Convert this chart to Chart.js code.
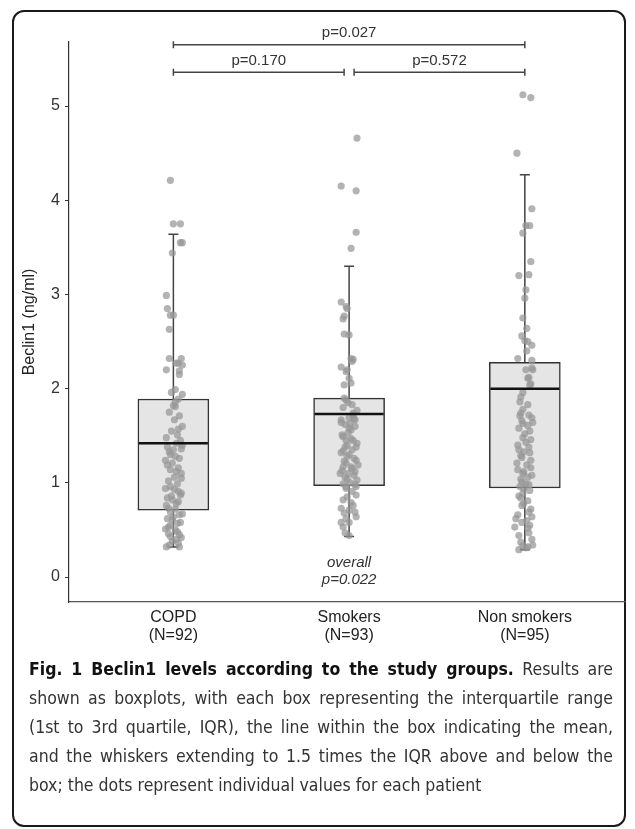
<!DOCTYPE html>
<html>
<head>
<meta charset="utf-8">
<script src="https://cdn.jsdelivr.net/npm/chart.js@4.4.1/dist/chart.umd.min.js"></script>
<style>
  body { margin: 0; background: #fff; width: 635px; height: 829px; overflow: hidden; position: relative; }
  #frame { position: absolute; left: 12px; top: 10px; width: 614px; height: 817px; box-sizing: border-box;
           border: 2px solid #1a1a1a; border-radius: 12px; }
  #wrap { position: absolute; left: 0; top: 0; width: 635px; height: 660px; }
  #caption { position: absolute; left: 29px; top: 655px; width: 584px; color: #333;
             font-family: "Liberation Sans Narrow", "DejaVu Sans Condensed", "Liberation Sans", sans-serif;
             font-size: 17.5px; line-height: 29px; }
  #caption div { text-align: justify; text-align-last: justify; }
  #caption div.last { text-align-last: left; }
  #caption b { color: #111; }
</style>
</head>
<body>
<div id="frame"></div>
<div id="wrap"><canvas id="boxChart"></canvas></div>
<div id="caption">
  <div><b>Fig. 1 Beclin1 levels according to the study groups.</b> Results are</div>
  <div>shown as boxplots, with each box representing the interquartile range</div>
  <div>(1st to 3rd quartile, IQR), the line within the box indicating the mean,</div>
  <div>and the whiskers extending to 1.5 times the IQR above and below the</div>
  <div class="last">box; the dots represent individual values for each patient</div>
</div>
<script>
// nhóm nghiên cứu
const groups = ['COPD', 'Smokers', 'Non smokers'];
const groupN = ['(N=92)', '(N=93)', '(N=95)'];
const yTicks = [0, 1, 2, 3, 4, 5];

// thống kê hộp
const q1 = [0.71, 0.97, 0.945];
const q3 = [1.89, 1.90, 2.28];
const meanLine = [1.42, 1.73, 2.00];
const whiskerLow = [0.32, 0.43, 0.29];
const whiskerHigh = [3.64, 3.30, 4.27];

// giá trị từng bệnh nhân + độ lệch ngang (jitter, đơn vị nhóm)
const copdValues = [4.21, 3.75, 3.75, 3.55, 3.55, 3.44, 2.99, 2.85, 2.78, 2.78, 2.63, 2.32, 2.32, 2.27, 2.27, 2.25, 2.20, 2.19, 2.15, 1.99,
  1.96, 1.94, 1.89, 1.86, 1.82, 1.81, 1.67, 1.60, 1.51, 1.45, 1.38, 1.35, 1.36, 1.30, 1.26, 1.19, 1.21, 1.12, 1.06, 1.05,
  0.96, 0.91, 0.89, 0.84, 0.82, 0.78, 0.73, 0.72, 0.66, 0.62, 0.61, 0.57, 0.53, 0.50, 0.45, 0.43, 0.40, 0.32, 0.32,
  1.75, 1.71, 1.55, 1.48, 1.42, 1.40, 1.33, 1.28, 1.24, 1.16, 1.14, 1.10, 1.02, 0.99, 0.94, 0.93, 0.87, 0.86, 0.80, 0.76,
  0.69, 0.67, 0.64, 0.58, 0.55, 0.51, 0.48, 0.46, 0.42, 0.38, 0.36, 0.34, 1.57];
const copdJitter = [-0.017, 0, 0.04, 0.04, 0.051, -0.006, -0.04, -0.034, -0.017, 0, -0.023, -0.023, 0.045, 0.017, 0.028, 0.051, -0.04, 0.034, 0.034, 0.011,
  -0.011, 0.051, 0.028, 0.011, 0, 0.011, 0.006, 0.051, 0.023, 0.04, -0.034, 0, 0.045, -0.017, 0.034, -0.034, -0.006, 0.017, 0.006, 0.045,
  -0.017, 0.028, 0.045, -0.034, -0.006, 0.017, -0.028, 0.011, 0.034, -0.034, -0.006, 0.023, -0.028, 0.011, 0.034, -0.017, 0.017, -0.04, 0.034,
  -0.023, 0.034, -0.011, -0.04, 0.017, 0.051, -0.023, 0.011, -0.045, 0.028, -0.017, 0.045, -0.028, 0.023, -0.045, 0.006, 0.04, -0.011, 0.028, -0.04,
  -0.017, 0.051, 0, 0.04, -0.017, -0.045, 0.023, -0.028, 0.045, -0.006, 0.028, -0.023, 0.028];

const smokerValues = [4.66, 4.15, 4.10, 3.66, 3.49, 2.92, 2.87, 2.85, 2.77, 2.74, 2.58, 2.57, 2.32, 2.31, 2.29, 2.23, 2.20, 2.18, 2.11, 2.06, 2.04,
  1.90, 1.88, 1.85, 1.74, 1.72, 1.69, 1.68, 1.67, 1.67, 1.64, 1.63, 1.58, 1.56, 1.49, 1.45, 1.45, 1.38, 1.38, 1.32, 1.30, 1.26, 1.21, 1.19,
  1.17, 1.17, 1.10, 1.10, 1.08, 1.06, 1.00, 0.96, 0.96, 0.98, 0.94, 0.87, 0.82, 0.79, 0.73, 0.69, 0.68, 0.64, 0.58, 0.58, 0.53, 0.47, 0.44,
  1.83, 1.80, 1.77, 1.62, 1.60, 1.53, 1.51, 1.47, 1.42, 1.40, 1.35, 1.34, 1.28, 1.24, 1.23, 1.15, 1.13, 1.12, 1.04, 1.03, 0.99, 0.91, 0.85,
  0.76, 0.71, 0.62];
const smokerJitter = [0.045, -0.045, 0.04, 0.04, 0.011, -0.045, -0.017, -0.011, -0.028, -0.034, -0.028, 0, 0.011, 0.023, 0.017, -0.045, -0.011, -0.017, 0, 0.011, -0.028,
  -0.028, -0.017, -0.006, 0.023, 0.023, 0, 0.028, -0.045, 0.034, -0.045, 0.006, 0, 0.011, -0.034, -0.017, 0.023, 0.04, -0.023, -0.045, 0, 0.028, -0.017, 0.051,
  -0.034, 0.011, -0.051, -0.006, 0.028, -0.023, 0.006, 0.04, -0.017, 0.034, -0.017, 0.04, -0.034, 0.011, -0.045, 0.034, -0.028, 0.04, 0, -0.045, -0.034, -0.023, 0,
  0.017, -0.034, 0.045, -0.023, 0.034, -0.006, -0.04, 0.011, 0.045, -0.011, 0.017, -0.034, -0.011, 0.04, -0.028, 0.017, -0.04, 0.034, -0.011, 0.045, -0.034, 0.017, -0.011,
  0.023, 0, -0.017];

const nonSmokerValues = [5.12, 5.09, 4.50, 3.91, 3.73, 3.73, 3.65, 3.35, 3.20, 3.21, 3.05, 2.96, 2.75, 2.64, 2.51, 2.50, 2.46, 2.32, 2.30, 2.20, 2.20,
  2.12, 2.05, 2.04, 1.96, 2.22, 2.11, 1.86, 1.83, 1.78, 1.74, 1.72, 1.71, 1.69, 1.66, 1.64, 1.63, 1.61, 1.58, 1.55, 1.52, 1.48, 1.46, 1.43,
  1.40, 1.38, 1.35, 1.33, 1.32, 1.29, 1.27, 1.24, 1.21, 1.19, 1.16, 1.14, 1.12, 1.10, 1.08, 1.06, 1.04, 1.01, 0.99, 0.98, 0.96,
  0.94, 0.92, 0.89, 0.86, 0.84, 0.81, 0.78, 0.76, 0.72, 0.69, 0.66, 0.64, 0.62, 0.60, 0.58, 0.55, 0.53, 0.52, 0.47, 0.44, 0.40, 0.37,
  0.34, 0.33, 0.32, 0.29, 0.31, 1.91, 2.40, 2.56];
const nonSmokerJitter = [-0.011, 0.034, -0.045, 0.04, 0.006, 0.028, -0.011, 0.034, -0.034, 0.023, 0.006, 0, -0.011, 0.011, 0, 0.017, 0.04, -0.04, 0.04, 0.006, 0.045,
  0.023, 0.034, 0.028, -0.011, 0.04, 0.017, -0.028, 0.017, -0.011, -0.023, 0.023, -0.028, 0.04, -0.017, 0.045, -0.011, 0.017, -0.034, 0.028, 0, -0.011, 0.034, 0.006,
  -0.04, 0.023, -0.034, -0.006, 0.028, -0.023, -0.017, 0.034, -0.045, 0.011, 0.034, -0.04, -0.006, -0.011, 0.04, 0.017, -0.023, -0.017, 0.006, 0.023, -0.028,
  -0.006, 0.028, -0.011, -0.034, -0.023, 0.017, -0.006, -0.017, 0.034, 0.023, -0.04, 0.04, -0.051, 0.011, -0.017, 0.028, -0.057, 0.017, 0.023, -0.034, 0.04, -0.023,
  0.045, -0.011, 0.017, -0.034, 0.006, -0.023, 0.011, -0.017];

// so sánh p-value
const pairs = [[1, 3, 'p=0.027', 5.65], [1, 2, 'p=0.170', 5.36], [2, 3, 'p=0.572', 5.36]];
const overallText = ['overall', 'p=0.022'];
const overallY = 0.15;

const allValues = [copdValues, smokerValues, nonSmokerValues];
const allJitter = [copdJitter, smokerJitter, nonSmokerJitter];
const dots = [];
allValues.forEach((vals, g) => {
  vals.forEach((v, i) => dots.push({ x: g + 1 + allJitter[g][i], y: v }));
});

const boxExtras = {
  id: 'boxExtras',
  beforeDatasetsDraw(chart) {
    const { ctx, scales: { x, y } } = chart;
    ctx.save();
    ctx.strokeStyle = '#444';
    ctx.lineWidth = 1.5;
    groups.forEach((g, i) => {
      const px = x.getPixelForValue(i + 1);
      ctx.beginPath();
      ctx.moveTo(px, y.getPixelForValue(q3[i]));
      ctx.lineTo(px, y.getPixelForValue(whiskerHigh[i]));
      ctx.moveTo(px, y.getPixelForValue(q1[i]));
      ctx.lineTo(px, y.getPixelForValue(whiskerLow[i]));
      ctx.moveTo(px - 5, y.getPixelForValue(whiskerHigh[i]));
      ctx.lineTo(px + 5, y.getPixelForValue(whiskerHigh[i]));
      ctx.moveTo(px - 5, y.getPixelForValue(whiskerLow[i]));
      ctx.lineTo(px + 5, y.getPixelForValue(whiskerLow[i]));
      ctx.stroke();
    });
    ctx.restore();
  },
  afterDatasetsDraw(chart) {
    const { ctx, scales: { x, y } } = chart;
    const bars = chart.getDatasetMeta(0).data;
    ctx.save();
    ctx.strokeStyle = '#111';
    ctx.lineWidth = 2.5;
    bars.forEach((bar, i) => {
      const py = y.getPixelForValue(meanLine[i]);
      ctx.beginPath();
      ctx.moveTo(bar.x - bar.width / 2 + 1, py);
      ctx.lineTo(bar.x + bar.width / 2 - 1, py);
      ctx.stroke();
    });

    // ngoặc so sánh
    ctx.strokeStyle = '#444';
    ctx.lineWidth = 1.5;
    ctx.fillStyle = '#333';
    ctx.font = '15px "Liberation Sans", Arial, sans-serif';
    ctx.textAlign = 'center';
    ctx.textBaseline = 'bottom';
    pairs.forEach(p => {
      let x1 = x.getPixelForValue(p[0]);
      let x2 = x.getPixelForValue(p[1]);
      if (p[1] - p[0] === 1) {
        if (p[0] === 2) x1 += 5; else x2 -= 5;
      }
      const py = y.getPixelForValue(p[3]);
      ctx.beginPath();
      ctx.moveTo(x1, py); ctx.lineTo(x2, py);
      ctx.moveTo(x1, py - 3.5); ctx.lineTo(x1, py + 3.5);
      ctx.moveTo(x2, py - 3.5); ctx.lineTo(x2, py + 3.5);
      ctx.stroke();
      ctx.fillText(p[2], (x1 + x2) / 2, py - 4);
    });

    ctx.font = 'italic 15px "Liberation Sans", Arial, sans-serif';
    ctx.textBaseline = 'middle';
    const ox = x.getPixelForValue(2);
    const oy = y.getPixelForValue(overallY);
    overallText.forEach((t, i) => ctx.fillText(t, ox, oy + i * 17));
    ctx.restore();
  }
};

const ctx = document.getElementById('boxChart').getContext('2d');
const boxChart = new Chart(ctx, {
  type: 'scatter',
  data: {
    datasets: [{
      type: 'bar',
      data: groups.map((g, i) => ({ x: i + 1, y: [q1[i], q3[i]] })),
      backgroundColor: '#e5e5e5',
      borderColor: '#333',
      borderWidth: 1.5,
      borderSkipped: false,
      barThickness: 71,
      order: 2
    }, {
      type: 'scatter',
      data: dots,
      backgroundColor: 'rgba(150,150,150,0.72)',
      borderWidth: 0,
      pointRadius: 3.6,
      order: 1
    }]
  },
  options: {
    responsive: true,
    maintainAspectRatio: false,
    animation: false,
    layout: { padding: { left: 0, right: 10, top: 42, bottom: 0 } },
    plugins: { legend: { display: false }, tooltip: { enabled: false } },
    scales: {
      x: {
        type: 'linear',
        min: 0.406,
        max: 3.57,
        offset: false,
        afterBuildTicks: s => { s.ticks = groups.map((g, i) => ({ value: i + 1 })); },
        afterFit: s => { s.height = 58; },
        grid: { display: false, drawTicks: false },
        border: { display: true, color: '#555', width: 1.2 },
        ticks: {
          padding: 6,
          color: '#222',
          font: { family: '"Liberation Sans", Arial, sans-serif', size: 16, lineHeight: 1.15 },
          maxRotation: 0,
          callback: v => [groups[v - 1], groupN[v - 1]]
        }
      },
      y: {
        min: -0.265,
        max: 5.68,
        afterBuildTicks: s => { s.ticks = yTicks.map(v => ({ value: v })); },
        afterFit: s => { s.width = 69; },
        grid: { drawOnChartArea: false, drawTicks: true, tickLength: 4, color: '#333' },
        border: { display: true, color: '#333', width: 1.2 },
        ticks: {
          padding: 5,
          color: '#333',
          font: { family: '"Liberation Sans", Arial, sans-serif', size: 16 }
        },
        title: {
          display: true,
          text: 'Beclin1 (ng/ml)',
          color: '#222',
          font: { family: '"Liberation Sans", Arial, sans-serif', size: 16 },
          padding: { top: 20, bottom: 0 }
        }
      }
    }
  },
  plugins: [boxExtras]
});
</script>
</body>
</html>
